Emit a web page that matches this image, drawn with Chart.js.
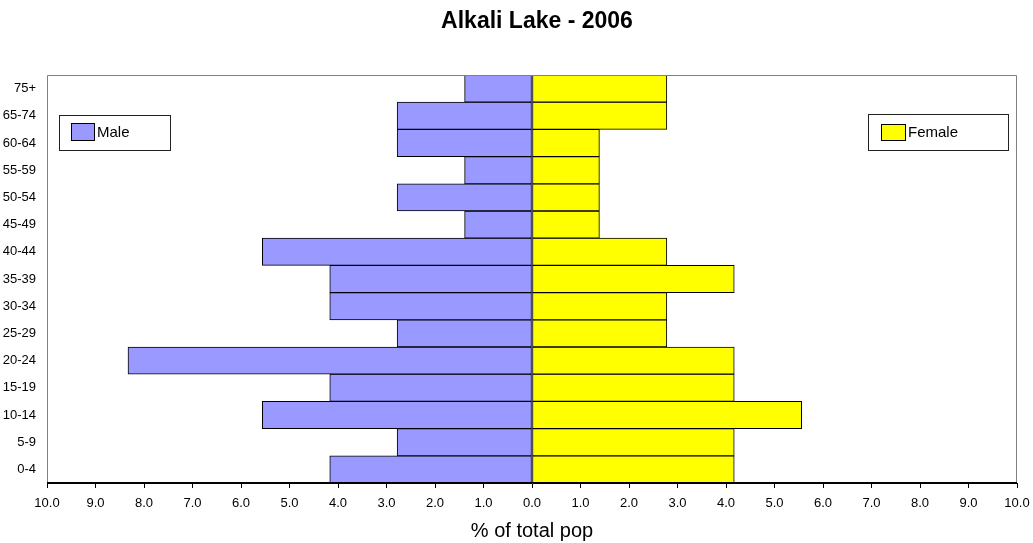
<!DOCTYPE html>
<html>
<head>
<meta charset="utf-8">
<script src="https://cdn.jsdelivr.net/npm/chart.js@4/dist/chart.umd.min.js"></script>
<style>
  html, body { margin: 0; padding: 0; background: #ffffff; }
  #wrap { width: 1033px; height: 543px; position: relative; }
</style>
</head>
<body>
<div id="wrap"><canvas id="pyramid" width="1033" height="543"></canvas></div>
<script>
// Age groups, youngest first
const ageGroups = ['0-4', '5-9', '10-14', '15-19', '20-24', '25-29', '30-34', '35-39',
                   '40-44', '45-49', '50-54', '55-59', '60-64', '65-74', '75+'];
// Share of total population (%)
const malePct   = [4.17, 2.78, 5.56, 4.17, 8.33, 2.78, 4.17, 4.17, 5.56, 1.39, 2.78, 1.39, 2.78, 2.78, 1.39];
const femalePct = [4.17, 4.17, 5.56, 4.17, 4.17, 2.78, 2.78, 4.17, 2.78, 1.39, 1.39, 1.39, 1.39, 2.78, 2.78];
const xTickValues = [-10, -9, -8, -7, -6, -5, -4, -3, -2, -1, 0, 1, 2, 3, 4, 5, 6, 7, 8, 9, 10];

const chartTitle = 'Alkali Lake - 2006';
const xAxisTitle = '% of total pop';
const FONT = '"Liberation Sans", Arial, Helvetica, sans-serif';

const MALE_COLOR = '#9999ff';
const FEMALE_COLOR = '#ffff00';

// Title, plot frame and the two boxed legends
const decorations = {
  id: 'decorations',
  afterDraw(chart) {
    const { ctx, chartArea: a } = chart;
    ctx.save();
    // frame
    ctx.strokeStyle = '#808080';
    ctx.lineWidth = 1;
    ctx.beginPath();
    ctx.moveTo(a.left + 0.5, a.bottom);
    ctx.lineTo(a.left + 0.5, a.top + 0.5);
    ctx.lineTo(a.right - 0.5, a.top + 0.5);
    ctx.lineTo(a.right - 0.5, a.bottom);
    ctx.stroke();
    ctx.strokeStyle = '#000000';
    ctx.beginPath();
    ctx.moveTo(a.left, a.bottom - 0.5);
    ctx.lineTo(a.right, a.bottom - 0.5);
    ctx.stroke();

    // title
    ctx.fillStyle = '#000000';
    ctx.font = 'bold 23px ' + FONT;
    ctx.textAlign = 'center';
    ctx.textBaseline = 'middle';
    ctx.fillText(chartTitle, 537, 22);

    // legends
    const drawLegend = (box, swatch, color, label) => {
      ctx.fillStyle = '#ffffff';
      ctx.fillRect(box.x, box.y, box.w, box.h);
      ctx.strokeStyle = '#222222';
      ctx.lineWidth = 1;
      ctx.strokeRect(box.x + 0.5, box.y + 0.5, box.w, box.h);
      ctx.fillStyle = color;
      ctx.fillRect(swatch.x, swatch.y, swatch.w, swatch.h);
      ctx.strokeStyle = '#000000';
      ctx.strokeRect(swatch.x + 0.5, swatch.y + 0.5, swatch.w, swatch.h);
      ctx.fillStyle = '#000000';
      ctx.font = '15px ' + FONT;
      ctx.textAlign = 'left';
      ctx.textBaseline = 'middle';
      ctx.fillText(label, swatch.x + swatch.w + 3, swatch.y + swatch.h / 2 + 1);
    };
    drawLegend({ x: 59, y: 115, w: 111, h: 35 }, { x: 71, y: 123, w: 23, h: 17 },
               MALE_COLOR, chart.data.datasets[0].label);
    drawLegend({ x: 868, y: 114, w: 140, h: 36 }, { x: 881, y: 124, w: 24, h: 16 },
               FEMALE_COLOR, chart.data.datasets[1].label);
    ctx.restore();
  }
};

new Chart(document.getElementById('pyramid'), {
  type: 'bar',
  data: {
    labels: ageGroups,
    datasets: [
      {
        label: 'Male',
        data: malePct.map(v => -v),
        backgroundColor: MALE_COLOR,
        borderColor: '#000000',
        borderWidth: 1,
        borderSkipped: false,
        barPercentage: 1,
        categoryPercentage: 1
      },
      {
        label: 'Female',
        data: femalePct,
        backgroundColor: FEMALE_COLOR,
        borderColor: '#000000',
        borderWidth: 1,
        borderSkipped: false,
        barPercentage: 1,
        categoryPercentage: 1
      }
    ]
  },
  options: {
    indexAxis: 'y',
    responsive: false,
    animation: false,
    layout: { padding: { top: 75, right: 16, left: 0, bottom: 0 } },
    plugins: {
      legend: { display: false },
      title: { display: false },
      tooltip: { enabled: false }
    },
    scales: {
      x: {
        stacked: true,
        min: -10,
        max: 10,
        afterBuildTicks(scale) {
          scale.ticks = xTickValues.map(v => ({ value: v }));
        },
        afterFit(scale) {
          scale.height = 60;
          scale.paddingLeft = 0;
          scale.paddingRight = 0;
        },
        ticks: {
          color: '#000000',
          font: { family: FONT, size: 13 },
          padding: 8,
          maxRotation: 0,
          autoSkip: false,
          callback: v => Math.abs(v).toFixed(1)
        },
        grid: {
          drawOnChartArea: false,
          drawTicks: true,
          tickLength: 5,
          color: '#000000'
        },
        border: { display: true, color: '#000000' },
        title: {
          display: true,
          text: xAxisTitle,
          color: '#000000',
          font: { family: FONT, size: 20 },
          padding: { top: 0, bottom: 0 }
        }
      },
      y: {
        stacked: true,
        reverse: true,
        afterFit(scale) { scale.width = 47; },
        ticks: {
          color: '#000000',
          font: { family: FONT, size: 13 },
          padding: 11,
          autoSkip: false
        },
        grid: { display: false, drawTicks: false },
        border: { display: false }
      }
    }
  },
  plugins: [decorations]
});
</script>
</body>
</html>
